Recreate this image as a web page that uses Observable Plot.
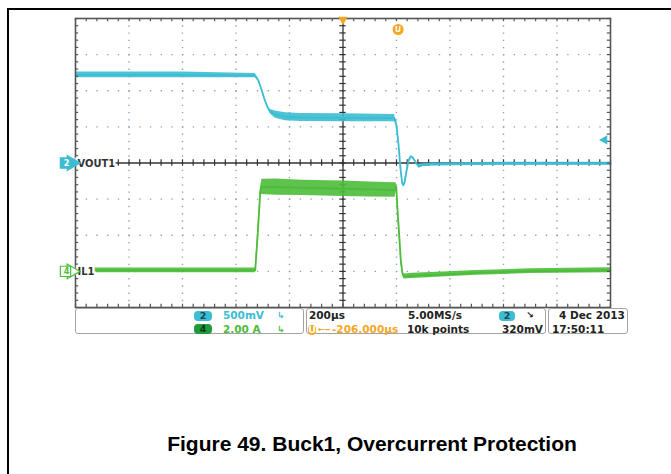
<!DOCTYPE html>
<html><head><meta charset="utf-8">
<script src="https://cdn.jsdelivr.net/npm/d3@7"></script>
<script src="https://cdn.jsdelivr.net/npm/@observablehq/plot@0.6"></script>
<style>
body{margin:0;background:#fff;}
#page{position:relative;width:671px;height:474px;overflow:hidden;background:#fff;}
#frameTop{position:absolute;left:7px;top:8px;width:664px;height:2px;background:#000;}
#frameLeft{position:absolute;left:7px;top:8px;width:2px;height:466px;background:#000;}
#chart{position:absolute;left:0;top:0;}
.box{position:absolute;top:308px;height:26px;border:1.5px solid #a3a3a3;border-radius:3px;box-sizing:border-box;}
.t{position:absolute;font:bold 10.5px "DejaVu Sans",sans-serif;white-space:nowrap;line-height:11px;}
.pill{position:absolute;border-radius:4px;font:bold 9.5px "DejaVu Sans",sans-serif;text-align:center;line-height:10px;height:10px;}
#caption{position:absolute;left:0;width:744px;top:432px;text-align:center;font:bold 21px "Liberation Sans",Arial,sans-serif;color:#000;}
</style></head>
<body>
<div id="page">
  <div id="frameTop"></div><div id="frameLeft"></div>
  <div id="chart"></div>
  <div id="status"></div>
  <div id="caption">Figure 49. Buck1, Overcurrent Protection</div>
</div>
<script>
// ---- data (time in µs relative to screen centre) ----
const voutT = [-1000, -600, -328, -316, -305, -294, -283, -272, -253, -215, -159, 0, 193, 200, 208, 215, 221, 225, 230, 238, 245, 253, 260, 272, 283, 298, 328, 590, 1000];
const voutV = [1.22, 1.22, 1.21, 1.14, 1.02, 0.89, 0.78, 0.71, 0.67, 0.64, 0.63, 0.625, 0.62, 0.52, 0.24, -0.08, -0.27, -0.31, -0.27, -0.10, 0.03, 0.09, 0.08, 0.01, -0.05, -0.03, -0.02, -0.01, -0.01];
const voutNoise = [0.04, 0.04, 0.03, 0.01, 0.01, 0.01, 0.01, 0.03, 0.05, 0.055, 0.055, 0.055, 0.05, 0.01, 0.01, 0.01, 0.01, 0.01, 0.01, 0.01, 0.01, 0.01, 0.01, 0.015, 0.02, 0.02, 0.02, 0.02, 0.02];

const ilT  = [-1000, -328, -318, -309, -303, -250, -150, 0, 100, 195, 199, 204, 210, 216, 222, 228, 260, 350, 500, 700, 1000];
const ilLo = [-0.08, -0.08, 2.1, 4.3, 4.25, 4.22, 4.2, 4.15, 4.12, 4.1, 4.5, 3.2, 1.9, 0.5, -0.2, -0.42, -0.4, -0.33, -0.22, -0.12, -0.08];
const ilHi = [0.18, 0.18, 2.4, 4.6, 5.1, 5.12, 5.05, 5.0, 4.95, 4.9, 4.9, 3.5, 2.2, 0.75, 0.05, -0.15, -0.1, -0.05, 0.05, 0.14, 0.2];

// channel settings
const channelNames = ["VOUT1", "IL1"];
const channelBadges = ["2", "4"];
const channelScale = [0.5, 2.0];   // units per division
const channelRef = [0, -3];        // reference level in divisions
const triggerTime = 206;           // µs
const triggerLevel = 0.32;         // V on channel 2

// graticule ticks
const xDomain = [-1000, 1000];
const yDomain = [-4, 4];
const majorX = [-800, -600, -400, -200, 200, 400, 600, 800];
const majorY = [-3, -2, -1, 1, 2, 3];
const minorX = d3.range(-1000, 1000.1, 40);
const minorY = d3.range(-4, 4.01, 0.2);

// status bar text
const statusRow1 = ["500mV", "200µs", "5.00MS/s", "4 Dec 2013"];
const statusRow2 = ["2.00 A", "-206.000µs", "10k points", "320mV", "17:50:11"];

const cyan = "#3cbdd2", green = "#4cbc3a", orange = "#f5a623";
const toDivV = v => v / channelScale[0] + channelRef[0];
const toDivI = a => a / channelScale[1] + channelRef[1];

const vout = voutT.map((t, i) => ({t, v: voutV[i], n: voutNoise[i]}));
const il = ilT.map((t, i) => ({t, lo: ilLo[i], hi: ilHi[i]}));
const chans = channelNames.map((name, i) => ({name, badge: channelBadges[i], ref: channelRef[i], color: i ? green : cyan}));

const tx = 12, ty = 0.09; // tick lengths in data units
const labelFont = "DejaVu Sans Condensed, DejaVu Sans, sans-serif";

const plot = Plot.plot({
  width: 671, height: 320,
  marginLeft: 75, marginRight: 61, marginTop: 18, marginBottom: 13,
  x: {domain: xDomain, axis: null},
  y: {domain: yDomain, axis: null},
  marks: [
    Plot.ruleX(majorX, {stroke: "#8ea3b8", strokeWidth: 1.4, strokeDasharray: "1.4,5.825"}),
    Plot.ruleY(majorY, {stroke: "#8ea3b8", strokeWidth: 1.4, strokeDasharray: "1.4,9.3"}),
    Plot.ruleX([0], {stroke: "#333", strokeWidth: 1.3}),
    Plot.ruleY([0], {stroke: "#333", strokeWidth: 1.3}),
    Plot.ruleX(minorX, {y1: -ty, y2: ty, stroke: "#333", strokeWidth: 1.2}),
    Plot.ruleY(minorY, {x1: -tx, x2: tx, stroke: "#333", strokeWidth: 1.2}),
    // traces
    Plot.areaY(il, {x: "t", y1: d => toDivI(d.lo), y2: d => toDivI(d.hi), fill: green, fillOpacity: 0.9}),
    Plot.line(il, {x: "t", y: d => toDivI((d.lo + d.hi) / 2), stroke: green, strokeWidth: 1.8}),
    Plot.areaY(vout, {x: "t", y1: d => toDivV(d.v - d.n), y2: d => toDivV(d.v + d.n), fill: cyan, fillOpacity: 0.9}),
    Plot.line(vout, {x: "t", y: d => toDivV(d.v), stroke: cyan, strokeWidth: 1.8}),
    // border and border ticks
    Plot.frame({stroke: "#555", strokeWidth: 1.6}),
    Plot.ruleX(minorX, {y1: yDomain[1], y2: yDomain[1] - ty, stroke: "#555", strokeWidth: 1.2}),
    Plot.ruleX(minorX, {y1: yDomain[0], y2: yDomain[0] + ty, stroke: "#555", strokeWidth: 1.2}),
    Plot.ruleY(minorY, {x1: xDomain[0], x2: xDomain[0] + tx, stroke: "#555", strokeWidth: 1.2}),
    Plot.ruleY(minorY, {x1: xDomain[1], x2: xDomain[1] - tx, stroke: "#555", strokeWidth: 1.2}),
    // channel labels with halo
    Plot.text(chans, {x: () => xDomain[0], y: "ref", text: "name", dx: 2, textAnchor: "start", fontSize: 11, fontWeight: "bold", fontFamily: labelFont, fill: "white", stroke: "white", strokeWidth: 5}),
    Plot.text(chans, {x: () => xDomain[0], y: "ref", text: "name", dx: 2, textAnchor: "start", fontSize: 11, fontWeight: "bold", fontFamily: labelFont, fill: "#333"}),
    // channel badges in the left margin
    Plot.dot(chans, {x: () => xDomain[0], y: "ref", dx: -4, symbol: "triangle", rotate: 90, r: 5.5, fill: d => d.name === "IL1" ? "white" : d.color, stroke: "color", strokeWidth: 1.2}),
    Plot.dot(chans, {x: () => xDomain[0], y: "ref", dx: -10, symbol: "square", r: 5.8, fill: d => d.name === "IL1" ? "white" : d.color, stroke: "color", strokeWidth: 1.2}),
    Plot.text(chans, {x: () => xDomain[0], y: "ref", text: "badge", dx: -9, fontSize: 9, fontWeight: "bold", fontFamily: labelFont, fill: d => d.name === "IL1" ? green : "white"}),
    // trigger position & level markers
    Plot.dot([0], {x: d => d, y: () => yDomain[1], dy: 1, symbol: "triangle", rotate: 180, r: 3.5, fill: orange}),
    Plot.dot([triggerTime], {x: d => d, y: () => yDomain[1], dy: 11, symbol: "circle", r: 5.5, fill: orange}),
    Plot.text([triggerTime], {x: d => d, y: () => yDomain[1], dy: 11, text: () => "U", fontSize: 8, fontWeight: "bold", fill: "white"}),
    Plot.dot([triggerLevel], {x: () => xDomain[1], y: d => toDivV(d), dx: -6, symbol: "triangle", rotate: -90, r: 3.5, fill: cyan})
  ]
});
document.getElementById("chart").appendChild(plot);

// ---- status bar ----
const st = document.getElementById("status");
function box(l, w){const b=document.createElement("div");b.className="box";b.style.left=l+"px";b.style.width=w+"px";st.appendChild(b);}
function txt(s, l, top, color, extra){const e=document.createElement("div");e.className="t";e.textContent=s;e.style.left=l+"px";e.style.top=top+"px";e.style.color=color;if(extra)Object.assign(e.style,extra);st.appendChild(e);}
function pill(s, l, top, w, bg, color){const e=document.createElement("div");e.className="pill";e.textContent=s;e.style.left=l+"px";e.style.top=top+"px";e.style.width=w+"px";e.style.background=bg;e.style.color=color;st.appendChild(e);}
box(75, 229); box(306, 240); box(548, 80);
const r1 = 310, r2 = 323.5;
pill(channelBadges[0], 194, r1 + 0.5, 18, cyan, "#1b4a55");
txt(statusRow1[0], 223, r1, cyan);
txt("↳", 277, r1, cyan, {fontSize: "9px"});
pill(channelBadges[1], 194, r2 + 0.5, 18, "#1f9a3c", "#0d3a12");
txt(statusRow2[0], 223, r2, green);
txt("↳", 277, r2, green, {fontSize: "9px"});
txt(statusRow1[1], 309, r1, "#222");
pill("U", 308, r2 + 1, 8, orange, "white");
txt("←‒", 318, r2, orange, {fontSize: "8px"});
txt(statusRow2[1], 332, r2, orange);
txt(statusRow1[2], 408, r1, "#222");
txt(statusRow2[2], 407, r2, "#222");
pill(channelBadges[0], 499, r1 + 0.5, 16, cyan, "#1b4a55");
txt("↘", 526, r1, "#222", {fontSize: "9px"});
txt(statusRow2[3], 502, r2, "#222");
txt(statusRow1[3], 559, r1, "#222");
txt(statusRow2[4], 552, r2, "#222");
</script>
</body></html>
